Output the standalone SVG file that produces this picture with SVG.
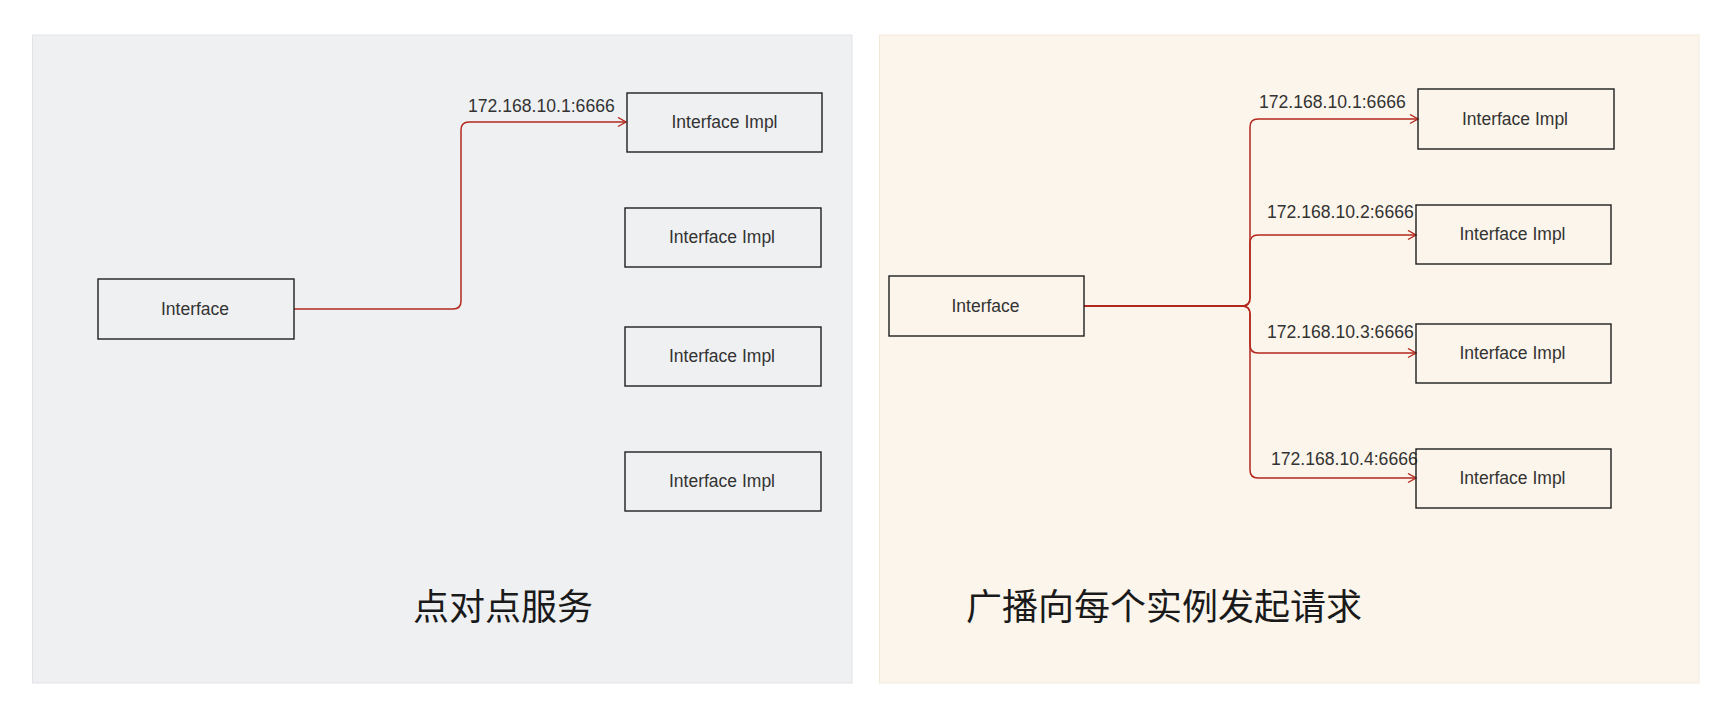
<svg xmlns="http://www.w3.org/2000/svg" width="1732" height="720" viewBox="0 0 1732 720">
<style>
.box{fill:none;stroke:#1e1e1e;stroke-width:1.4}
.nt{font-family:"Liberation Sans",Arial,sans-serif;font-size:17.5px;fill:#333;text-anchor:middle}
.lbl{font-family:"Liberation Sans",Arial,sans-serif;font-size:17.6px;fill:#333}
.title{font-family:"Noto Sans CJK SC","Noto Sans",sans-serif;font-size:36px;fill:#1a1a1a}
.conn{fill:none;stroke:#b3281e;stroke-width:1.5;marker-end:url(#arr)}
</style>
<defs>
<marker id="arr" markerUnits="userSpaceOnUse" markerWidth="12" markerHeight="12" refX="9" refY="5" orient="auto">
<path d="M1,0.5 L9,5 L1,9.5" fill="none" stroke="#b3281e" stroke-width="1.4"/>
</marker>
</defs>
<rect width="1732" height="720" fill="#ffffff"/>
<g id="panel-left">
<rect x="32.5" y="35" width="819.5" height="648" fill="#eff0f2" stroke="#e2e3e6" stroke-width="1"/>
<text class="title" x="413" y="620">点对点服务</text>
</g>
<g id="panel-right">
<rect x="879.5" y="35" width="819.5" height="648" fill="#fcf5eb" stroke="#f3e9da" stroke-width="1"/>
<text class="title" x="966" y="620">广播向每个实例发起请求</text>
</g>
<g id="connectors">
<path class="conn" d="M294,309 H453 Q461,309 461,301 V130 Q461,122 469,122 H626"/>
<text class="lbl" x="468" y="112">172.168.10.1:6666</text>
<path class="conn" d="M1084,306 H1242 Q1250,306 1250,298 V127 Q1250,119 1258,119 H1418"/>
<path class="conn" d="M1084,306 H1242 Q1250,306 1250,298 V243 Q1250,235 1258,235 H1416"/>
<path class="conn" d="M1084,306 H1242 Q1250,306 1250,314 V345 Q1250,353 1258,353 H1416"/>
<path class="conn" d="M1084,306 H1242 Q1250,306 1250,314 V470 Q1250,478 1258,478 H1416"/>
<text class="lbl" x="1259" y="108">172.168.10.1:6666</text>
<text class="lbl" x="1267" y="218">172.168.10.2:6666</text>
<text class="lbl" x="1267" y="338">172.168.10.3:6666</text>
<text class="lbl" x="1271" y="465">172.168.10.4:6666</text>
</g>
<g id="l-interface"><rect class="box" x="98" y="279" width="196" height="60"/><text class="nt" x="195" y="315">Interface</text></g>
<g id="l-impl1"><rect class="box" x="627" y="93" width="195" height="59"/><text class="nt" x="724.5" y="128">Interface Impl</text></g>
<g id="l-impl2"><rect class="box" x="625" y="208" width="196" height="59"/><text class="nt" x="722" y="243">Interface Impl</text></g>
<g id="l-impl3"><rect class="box" x="625" y="327" width="196" height="59"/><text class="nt" x="722" y="362">Interface Impl</text></g>
<g id="l-impl4"><rect class="box" x="625" y="452" width="196" height="59"/><text class="nt" x="722" y="487">Interface Impl</text></g>
<g id="r-interface"><rect class="box" x="889" y="276" width="195" height="60"/><text class="nt" x="985.5" y="312">Interface</text></g>
<g id="r-impl1"><rect class="box" x="1418" y="89" width="196" height="60"/><text class="nt" x="1515" y="125">Interface Impl</text></g>
<g id="r-impl2"><rect class="box" x="1416" y="205" width="195" height="59"/><text class="nt" x="1512.5" y="240">Interface Impl</text></g>
<g id="r-impl3"><rect class="box" x="1416" y="324" width="195" height="59"/><text class="nt" x="1512.5" y="359">Interface Impl</text></g>
<g id="r-impl4"><rect class="box" x="1416" y="449" width="195" height="59"/><text class="nt" x="1512.5" y="484">Interface Impl</text></g>
</svg>
